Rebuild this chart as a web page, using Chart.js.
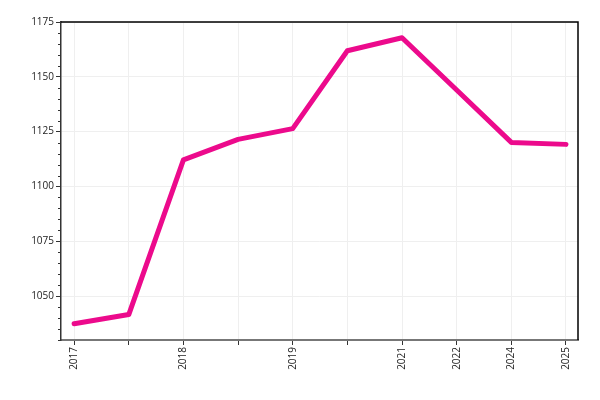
<!DOCTYPE html>
<html>
<head>
<meta charset="utf-8">
<script src="https://cdn.jsdelivr.net/npm/chart.js@4/dist/chart.umd.min.js"></script>
<style>
  html, body { margin: 0; padding: 0; background: #fff; }
  canvas { display: block; }
</style>
</head>
<body>
<canvas id="chart" width="600" height="400"></canvas>
<script>
// x categories (some ticks carry no label in the original)
const xLabels = ['2017', '', '2018', '', '2019', '', '2021', '2022', '2024', '2025'];
const values = [1037.4, 1041.6, 1112.1, 1121.5, 1126.4, 1161.9, 1167.8, 1144, 1120.1, 1119.2];
const yTicks = [1050, 1075, 1100, 1125, 1150, 1175];
const yMinorStep = 5;

const colors = {
  line: '#ec0a8c',
  grid: '#efefef',
  text: '#222',
  yAxis: '#333',
  xAxis: '#777',
  frame: '#000'
};

// top/right frame plus the short minor ticks on the y axis
const framePlugin = {
  id: 'frame',
  afterDraw(chart) {
    const { ctx, chartArea: a } = chart;
    const y = chart.scales.y;
    ctx.save();
    ctx.strokeStyle = colors.frame;
    ctx.lineWidth = 1.5;
    ctx.beginPath();
    ctx.moveTo(a.left, a.top);
    ctx.lineTo(a.right, a.top);
    ctx.lineTo(a.right, a.bottom);
    ctx.stroke();

    ctx.strokeStyle = colors.yAxis;
    ctx.lineWidth = 1;
    ctx.beginPath();
    for (let v = y.min; v <= y.max; v += yMinorStep) {
      if (v % 25 === 0) continue;
      const py = Math.round(y.getPixelForValue(v)) + 0.5;
      ctx.moveTo(a.left - 3, py);
      ctx.lineTo(a.left, py);
    }
    ctx.stroke();
    ctx.restore();
  }
};

new Chart(document.getElementById('chart'), {
  type: 'line',
  data: {
    datasets: [{
      data: values.map((v, i) => ({ x: i, y: v })),
      borderColor: colors.line,
      borderWidth: 5,
      borderCapStyle: 'round',
      borderJoinStyle: 'round',
      pointRadius: 0,
      tension: 0,
      fill: false
    }]
  },
  options: {
    responsive: false,
    animation: false,
    layout: { padding: { top: 22, right: 22, left: 0, bottom: 0 } },
    plugins: {
      legend: { display: false },
      tooltip: { enabled: false }
    },
    scales: {
      x: {
        type: 'linear',
        min: -0.24,
        max: 9.22,
        afterBuildTicks: (s) => { s.ticks = xLabels.map((_, i) => ({ value: i })); },
        afterFit: (s) => { s.height = 60; },
        grid: { color: colors.grid, tickColor: colors.yAxis, tickLength: 5, lineWidth: 1 },
        border: { color: colors.xAxis, width: 2 },
        ticks: {
          autoSkip: false,
          minRotation: 90,
          maxRotation: 90,
          padding: 2,
          color: colors.text,
          font: { family: 'Open Sans', size: 10 },
          callback: (v) => xLabels[v] ?? ''
        }
      },
      y: {
        min: 1030,
        max: 1175,
        afterBuildTicks: (s) => { s.ticks = yTicks.map(v => ({ value: v })); },
        afterFit: (s) => { s.width = 61; },
        grid: { color: colors.grid, tickColor: colors.yAxis, tickLength: 5, lineWidth: 1 },
        border: { color: colors.yAxis, width: 1.5 },
        ticks: {
          padding: 2,
          color: colors.text,
          font: { family: 'Open Sans', size: 10 },
          callback: (v) => String(v)
        }
      }
    }
  },
  plugins: [framePlugin]
});
</script>
</body>
</html>
